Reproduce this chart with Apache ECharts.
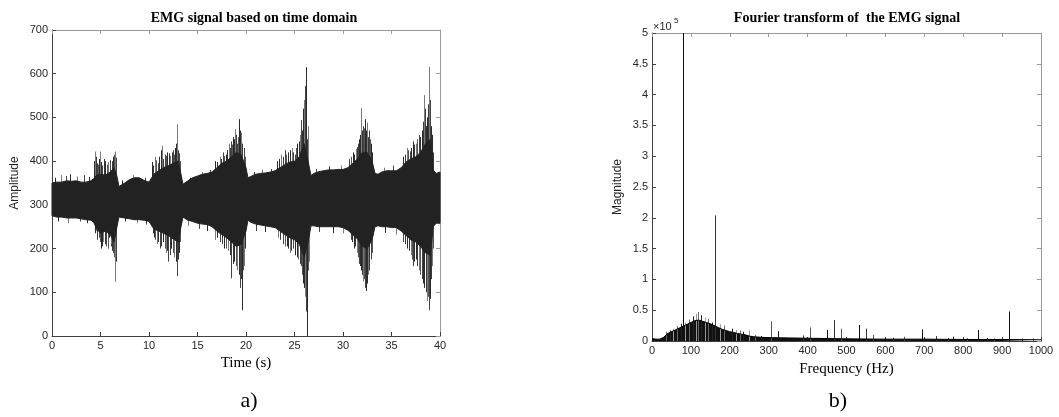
<!DOCTYPE html>
<html><head><meta charset="utf-8">
<script src="https://cdn.jsdelivr.net/npm/echarts@6/dist/echarts.min.js"></script>
<style>html,body{margin:0;padding:0;background:#fff}#c{width:1059px;height:417px}</style>
</head><body><div id="c"></div>
<script>
// ---------- tick labels ----------
const timeTicks = [0,5,10,15,20,25,30,35,40];
const ampTicks = [0,100,200,300,400,500,600,700];
const freqTicks = [0,100,200,300,400,500,600,700,800,900,1000];
const magTicks = [0,0.5,1,1.5,2,2.5,3,3.5,4,4.5,5];

// ---------- EMG time signal: dense core envelope ----------
const envT  = [0,0.5,1,1.5,2,2.5,3,3.5,4,4.3,4.6,5,5.5,6,6.4,6.7,6.9,7.5,8,8.5,9,9.5,10,10.5,11,11.5,12,12.5,13,13.3,13.5,14,14.5,15,15.5,16,16.5,17,17.5,18,18.5,19,19.5,20,20.2,20.5,21,21.5,22,22.5,23,23.5,24,24.5,25,25.5,26,26.4,26.7,27,27.5,28,28.5,29,29.5,30,30.5,31,31.5,32,32.5,33,33.3,33.6,34,34.5,35,35.5,36,36.5,37,37.5,38,38.5,39,39.3,39.6,40];
const envHi = [350,352,352,355,354,355,352,352,355,360,368,370,368,375,385,365,342,350,358,362,362,356,352,370,378,385,390,395,400,370,347,355,362,366,370,372,375,385,395,400,410,420,415,385,362,365,370,372,373,375,378,385,392,398,400,410,440,400,367,372,376,378,380,380,381,381,385,395,405,420,420,400,372,370,375,378,378,378,385,398,405,410,420,440,450,380,372,375];
const envLo = [275,272,272,270,270,270,268,266,265,260,245,235,240,232,215,250,272,270,268,266,266,265,262,245,240,235,230,222,215,250,272,265,262,258,256,255,250,240,232,225,215,205,210,240,265,260,256,254,252,250,248,240,232,225,220,210,180,215,252,252,250,250,250,250,250,248,242,232,222,205,200,220,250,252,250,250,248,248,240,230,220,215,205,190,185,250,258,258];

// ---------- EMG time signal: spike tips [time s, amplitude] ----------
const upSpikes = [[0.3,362],[0.9,368],[1.4,366],[1.9,370],[2.6,365],[3.3,368],[3.8,364],
 [4.4,422],[4.6,395],[4.8,405],[4.9,422],[5.2,390],[5.5,400],[5.8,398],[6.0,395],[6.3,410],[6.5,422],[6.6,408],
 [7.2,356],[8.3,368],[9.6,362],
 [10.3,398],[10.6,410],[10.9,395],[11.2,425],[11.3,435],[11.6,415],[11.9,420],[12.2,412],[12.5,425],[12.7,430],[12.9,484],[13.1,418],
 [14.2,362],[15.5,375],[16.3,380],
 [16.8,400],[17.3,410],[17.6,420],[17.9,415],[18.2,440],[18.5,445],[18.7,455],[18.9,473],[19.1,440],[19.3,496],[19.5,465],[19.8,430],
 [20.8,375],[21.7,380],[22.6,382],
 [23.2,400],[23.6,415],[24.0,425],[24.3,420],[24.7,430],[25.0,415],[25.3,440],[25.6,460],[25.7,494],[25.9,520],[26.0,540],[26.1,572],[26.2,615],[26.35,480],
 [27.2,382],[28.6,388],[29.8,390],
 [30.6,405],[31.0,420],[31.3,428],[31.5,440],[31.7,450],[31.9,521],[32.1,480],[32.3,496],[32.5,488],[32.7,470],[32.9,440],
 [34.2,385],[35.2,390],
 [36.2,410],[36.6,430],[36.9,422],[37.2,445],[37.5,440],[37.8,460],[38.1,470],[38.3,551],[38.5,520],[38.7,500],[38.85,616],[39.0,540],[39.15,460]];
const downSpikes = [[0.6,262],[1.7,258],[2.9,262],[3.6,258],
 [4.5,240],[4.8,225],[5.0,200],[5.3,215],[5.6,205],[5.9,225],[6.1,210],[6.3,190],[6.45,160],[6.5,124],[6.6,180],
 [7.5,262],[8.8,258],[9.7,255],
 [10.5,225],[10.8,210],[11.1,200],[11.4,215],[11.8,190],[12.0,170],[12.3,200],[12.6,180],[12.9,137],[13.1,190],
 [14.0,252],[15.2,245],[16.0,240],
 [16.8,220],[17.3,215],[17.7,200],[18.1,195],[18.5,132],[18.8,170],[19.1,150],[19.4,110],[19.6,59],[19.8,160],
 [21.0,240],[22.0,238],
 [23.3,225],[23.8,210],[24.2,205],[24.5,190],[24.8,200],[25.1,185],[25.4,175],[25.7,160],[25.9,120],[26.05,90],[26.15,56],[26.3,0],[26.45,170],
 [27.5,238],[29.0,235],[30.0,235],
 [30.8,220],[31.1,200],[31.4,190],[31.7,165],[31.9,150],[32.1,125],[32.3,110],[32.4,103],[32.6,140],[32.9,175],
 [34.3,236],[35.5,232],
 [36.2,215],[36.6,200],[37.0,185],[37.2,160],[37.5,175],[37.8,150],[38.1,130],[38.4,110],[38.7,80],[38.85,59],[39.0,100],[39.15,160]];
// dense fringe of the bursts [time s, amplitude]
const upFringe = [[4.35,400],[4.55,410],[4.75,392],[5.05,398],[5.35,405],[5.65,392],[5.95,402],[6.15,400],[6.4,415],[6.55,400],
 [10.4,390],[10.75,402],[11.05,410],[11.45,405],[11.75,412],[12.05,418],[12.35,420],[12.6,415],[12.8,440],[13.0,425],[13.2,400],
 [17.0,398],[17.45,405],[17.75,412],[18.05,425],[18.35,430],[18.6,438],[18.8,450],[19.0,460],[19.2,455],[19.4,470],[19.6,440],[19.9,410],
 [23.4,405],[23.8,410],[24.15,415],[24.5,425],[24.85,420],[25.15,430],[25.45,445],[25.8,470],[26.05,500],[26.15,520],[26.3,450],
 [30.8,410],[31.15,415],[31.4,432],[31.6,445],[31.8,460],[32.0,470],[32.2,475],[32.4,470],[32.6,455],[32.8,450],[33.0,420],
 [36.4,415],[36.75,425],[37.05,430],[37.35,438],[37.65,450],[37.95,455],[38.2,490],[38.4,510],[38.6,480],[38.8,530],[38.95,500],[39.1,480],[39.25,420]];
const downFringe = [[4.4,235],[4.65,220],[4.9,215],[5.15,205],[5.45,210],[5.75,200],[6.05,205],[6.2,195],[6.35,180],[6.55,170],
 [10.4,235],[10.65,220],[10.95,215],[11.25,205],[11.6,200],[11.9,195],[12.15,185],[12.45,190],[12.75,170],[13.0,175],[13.2,215],
 [17.0,225],[17.5,210],[17.9,200],[18.3,185],[18.65,165],[18.95,160],[19.25,140],[19.5,130],[19.7,150],[19.9,200],
 [23.5,220],[24.0,205],[24.35,200],[24.65,195],[25.0,185],[25.25,180],[25.55,165],[25.8,140],[26.0,110],[26.2,80],[26.4,150],
 [30.9,215],[31.25,205],[31.55,180],[31.8,160],[32.0,140],[32.2,130],[32.5,120],[32.7,150],[33.0,190],
 [36.4,210],[36.8,195],[37.1,175],[37.35,170],[37.65,160],[37.95,140],[38.25,120],[38.55,100],[38.75,90],[38.95,85],[39.1,130],[39.25,200]];

// ---------- FFT: dense spectrum envelope (x1e5) ----------
const fftF   = [0,10,20,25,30,40,50,60,70,80,90,100,110,120,130,140,150,160,170,180,190,200,210,220,230,240,250,260,280,300,350,400,450,500,600,700,800,900,1000];
const fftEnv = [0.04,0.03,0.03,0.03,0.06,0.12,0.15,0.18,0.21,0.24,0.27,0.30,0.33,0.34,0.32,0.30,0.28,0.25,0.22,0.19,0.17,0.15,0.14,0.12,0.11,0.10,0.08,0.07,0.06,0.055,0.05,0.045,0.04,0.035,0.03,0.03,0.025,0.025,0.02];
// fuzz peaks on the broad band [Hz, magnitude]
const fftFuzz = [[35,0.15],[45,0.17],[55,0.2],[65,0.24],[75,0.28],[85,0.3],[95,0.35],[105,0.4],[112,0.44],[118,0.47],[125,0.42],[135,0.38],[145,0.36],[155,0.3],[175,0.27],[185,0.25],[205,0.2],[215,0.18],[225,0.17],[235,0.15],[250,0.17],[265,0.1],[280,0.08]];
// discrete harmonic peaks [Hz, magnitude]
const fftPeaks = [[80,5.0],[163,2.04],[307,0.32],[324,0.16],[388,0.09],[406,0.22],[451,0.18],[468,0.34],[487,0.2],[532,0.26],[550,0.2],[567,0.1],[600,0.05],[620,0.05],[649,0.07],[694,0.19],[729,0.08],[760,0.05],[775,0.07],[800,0.06],[810,0.05],[838,0.18],[860,0.05],[880,0.04],[918,0.48],[950,0.04],[980,0.04]];

// ---------- chart ----------
const chart = echarts.init(document.getElementById('c'), null, {renderer:'canvas'});
const tickFont = {fontFamily:'Liberation Sans, Arial, sans-serif', fontSize:11, color:'#262626'};
const serif = 'Liberation Serif, Times New Roman, serif';

function mainAxis(pos, ticks, gridIndex, name, nameGap, extra) {
  return Object.assign({
    type:'value', gridIndex, position:pos, min:ticks[0], max:ticks[ticks.length-1], interval:ticks[1]-ticks[0],
    name, nameLocation:'middle', nameGap,
    axisLine:{show:true, onZero:false, lineStyle:{color:'#404040', width:1}},
    axisTick:{show:true, inside:true, length:4, lineStyle:{color:'#404040'}},
    axisLabel:Object.assign({margin:4, formatter:(v)=>String(v)}, tickFont),
    splitLine:{show:false}
  }, extra||{});
}
function mirrorAxis(pos, ticks, gridIndex) {
  return {type:'value', gridIndex, position:pos, min:ticks[0], max:ticks[ticks.length-1], interval:ticks[1]-ticks[0],
    axisLine:{show:true, onZero:false, lineStyle:{color:'#9a9a9a', width:1}},
    axisTick:{show:true, inside:true, length:4, lineStyle:{color:'#9a9a9a'}},
    axisLabel:{show:false}, splitLine:{show:false}};
}
function spikeSeries(data, base, xi, yi, colors, width, z) {
  return {type:'custom', coordinateSystem:'cartesian2d', xAxisIndex:xi, yAxisIndex:yi, data, silent:true, animation:false, z:z||2,
    renderItem(params, api) {
      const x = api.value(0), tip = api.value(1);
      const p0 = api.coord([x, base]), p1 = api.coord([x, tip]);
      const px = Math.round(p0[0]) + 0.5;
      return {type:'line', shape:{x1:px, y1:p0[1], x2:px, y2:p1[1]},
        style:{stroke:colors[params.dataIndex % colors.length], lineWidth:width}};
    }};
}
function bandSeries(xs, his, los, xi, yi, color) {
  return {type:'custom', coordinateSystem:'cartesian2d', xAxisIndex:xi, yAxisIndex:yi,
    data:[[xs[0], los[0]]], silent:true, animation:false, z:4,
    renderItem(params, api) {
      const top = xs.map((x,i)=>api.coord([x, his[i]]));
      const bot = xs.map((x,i)=>api.coord([x, los[i]])).reverse();
      return {type:'polygon', shape:{points:top.concat(bot)}, style:{fill:color, stroke:color, lineWidth:1}};
    }};
}

const option = {
  backgroundColor:'#fff',
  animation:false,
  grid:[
    {left:52, top:30, width:388, height:306},
    {left:652, top:33, width:389, height:308}
  ],
  xAxis:[
    mainAxis('bottom', timeTicks, 0, 'Time (s)', 19, {nameTextStyle:{fontFamily:serif, fontSize:15, color:'#000'}}),
    mirrorAxis('top', timeTicks, 0),
    mainAxis('bottom', freqTicks, 1, 'Frequency (Hz)', 21, {nameTextStyle:{fontFamily:serif, fontSize:15, color:'#000'}}),
    mirrorAxis('top', freqTicks, 1)
  ],
  yAxis:[
    mainAxis('left', ampTicks, 0, 'Amplitude', 31, {nameTextStyle:{fontFamily:'Liberation Sans, Arial, sans-serif', fontSize:12, color:'#262626'}}),
    mirrorAxis('right', ampTicks, 0),
    mainAxis('left', magTicks, 1, 'Magnitude', 28, {nameTextStyle:{fontFamily:'Liberation Sans, Arial, sans-serif', fontSize:12, color:'#262626'}}),
    mirrorAxis('right', magTicks, 1)
  ],
  series:[
    bandSeries(envT, envHi, envLo, 0, 0, '#222'),
    spikeSeries(upFringe, 310, 0, 0, ['#2e2e2e','#3a3a3a','#555'], 1, 2),
    spikeSeries(downFringe, 310, 0, 0, ['#2e2e2e','#3a3a3a','#555'], 1, 2),
    spikeSeries(upSpikes, 310, 0, 0, ['#2a2a2a','#7a7a7a','#444'], 1, 3),
    spikeSeries(downSpikes, 310, 0, 0, ['#2a2a2a','#7a7a7a','#444'], 1, 3),
    {type:'line', xAxisIndex:2, yAxisIndex:2, symbol:'none', silent:true,
     data:fftF.map((f,i)=>[f, fftEnv[i]]), lineStyle:{color:'#000', width:1},
     areaStyle:{color:'#111', opacity:1}},
    spikeSeries(fftFuzz, 0, 2, 2, ['#666','#222','#999'], 1, 3),
    spikeSeries(fftPeaks, 0, 2, 2, ['#111','#333','#555'], 1, 3)
  ],
  graphic:[
    {type:'text', x:254, y:18, style:{text:'EMG signal based on time domain', font:'bold 14px '+serif, fill:'#000', textAlign:'center', textVerticalAlign:'middle'}},
    {type:'text', x:847, y:18, style:{text:'Fourier transform of  the EMG signal', font:'bold 14px '+serif, fill:'#000', textAlign:'center', textVerticalAlign:'middle'}},
    {type:'text', x:653, y:27, style:{text:'×10', font:'11px Liberation Sans, Arial, sans-serif', fill:'#262626', textAlign:'left', textVerticalAlign:'middle'}},
    {type:'text', x:674, y:21, style:{text:'5', font:'8px Liberation Sans, Arial, sans-serif', fill:'#262626', textAlign:'left', textVerticalAlign:'middle'}},
    {type:'text', x:249, y:401, style:{text:'a)', font:'22px '+serif, fill:'#000', textAlign:'center', textVerticalAlign:'middle'}},
    {type:'text', x:838, y:401, style:{text:'b)', font:'22px '+serif, fill:'#000', textAlign:'center', textVerticalAlign:'middle'}}
  ]
};
chart.setOption(option);
</script></body></html>
